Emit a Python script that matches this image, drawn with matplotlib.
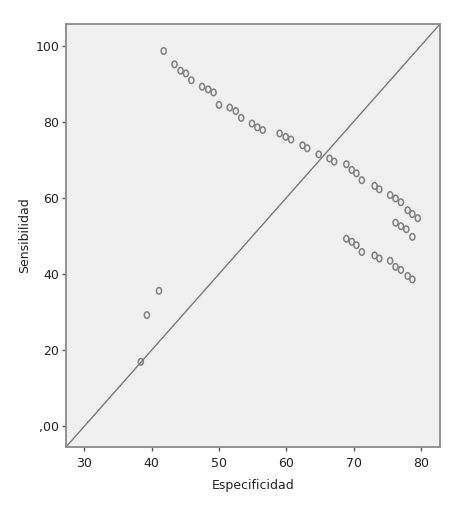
import matplotlib
matplotlib.use("Agg")
import matplotlib.pyplot as plt
from matplotlib.ticker import FuncFormatter
from matplotlib.path import Path
from matplotlib.transforms import Affine2D

# values (Especificidad, Sensibilidad)
especificidad = [41.8, 43.4, 44.3, 45.1, 45.9, 47.5, 48.4, 49.2, 50.0, 51.6,
                 52.5, 53.3, 54.9, 55.7, 56.5, 59.0, 59.9, 60.7, 62.4, 63.1,
                 64.8, 66.4, 67.1, 68.9, 69.7, 70.4, 71.2, 73.1, 73.8, 75.4,
                 76.2, 77.0, 78.0, 78.7, 79.5,
                 76.2, 77.0, 77.8, 78.7,
                 68.9, 69.7, 70.4, 71.2, 73.1, 73.8, 75.4, 76.2, 77.0, 78.0, 78.7,
                 41.1, 39.3, 38.4]
sensibilidad = [98.7, 95.2, 93.5, 92.8, 91.0, 89.3, 88.6, 87.8, 84.5, 83.8,
                82.9, 81.1, 79.6, 78.6, 77.9, 77.0, 76.1, 75.4, 73.9, 73.1,
                71.5, 70.4, 69.6, 68.9, 67.4, 66.5, 64.7, 63.2, 62.3, 60.8,
                59.9, 58.9, 56.8, 55.8, 54.7,
                53.5, 52.6, 51.8, 49.8,
                49.3, 48.5, 47.6, 45.8, 44.9, 44.1, 43.5, 41.9, 41.1, 39.5, 38.6,
                35.6, 29.2, 16.9]

x_ticks = [30, 40, 50, 60, 70, 80]
y_ticks = [0, 20, 40, 60, 80, 100]
x_lim = (27.3, 82.8)
y_lim = (-5.5, 105.8)

gray = '#7a7a7a'

# slightly tall open ring, like the SPSS marker
ring = Path.unit_circle().transformed(Affine2D().scale(0.78, 1.0))

fig = plt.figure(figsize=(4.6, 5.08), dpi=100)
ax = fig.add_axes([66 / 460, 1 - 447 / 508, 374 / 460, 423 / 508])
ax.set_facecolor('#f0f0f0')

# diagonal reference line corner to corner
ax.plot([0, 1], [0, 1], transform=ax.transAxes, color=gray, linewidth=1.0)

ax.scatter(especificidad, sensibilidad, s=22, marker=ring,
           facecolors='none', edgecolors='#808080', linewidths=1.1, zorder=3)

ax.set_xlim(*x_lim)
ax.set_ylim(*y_lim)
ax.set_xticks(x_ticks)
ax.set_yticks(y_ticks)
ax.yaxis.set_major_formatter(FuncFormatter(lambda v, p: ',00' if v == 0 else '%d' % v))

for s in ax.spines.values():
    s.set_color('#8a8a8a')
    s.set_linewidth(1.3)

ax.tick_params(direction='out', length=3, width=1, color='#555555',
               labelsize=9, labelcolor='#222222', pad=2)
ax.tick_params(axis='x', pad=4)

ax.set_xlabel('Especificidad', fontsize=9, color='#222222', labelpad=7)
ax.set_ylabel('Sensibilidad', fontsize=9, color='#222222', labelpad=3)

fig.savefig('out.png', dpi=100)
